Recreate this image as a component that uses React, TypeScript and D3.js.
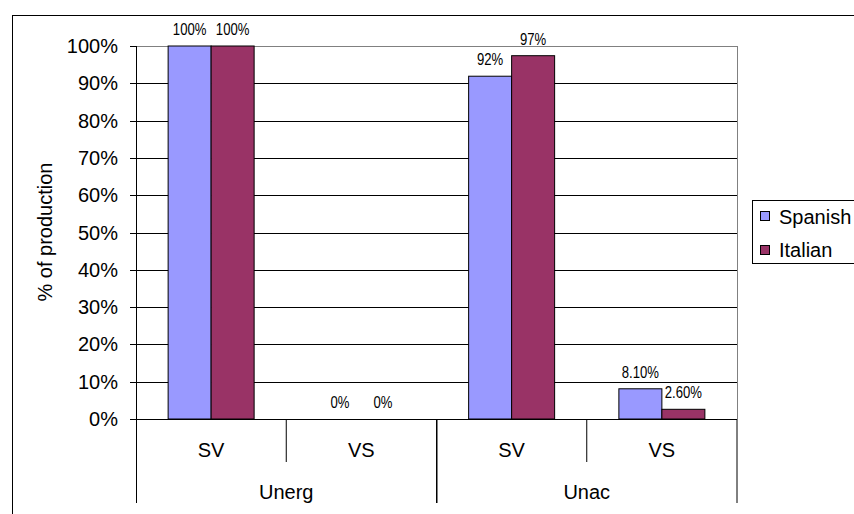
import React from "react";
import * as d3 from "d3";

const groups = ["Unerg", "Unac"];
const subcats = ["SV", "VS"];
const categories = ["Unerg|SV", "Unerg|VS", "Unac|SV", "Unac|VS"];
const seriesNames = ["Spanish", "Italian"];
const spanish = [100, 0, 91.9, 8.1];
const italian = [100, 0, 97.4, 2.6];
const spanishLabels = ["100%", "0%", "92%", "8.10%"];
const italianLabels = ["100%", "0%", "97%", "2.60%"];
const yTicks = [0, 10, 20, 30, 40, 50, 60, 70, 80, 90, 100];
const colors = ["#9999FF", "#993366"];

export default function App() {
  const W = 854, H = 514;
  const left = 136, right = 737, top = 46, bottom = 419;
  const y = d3.scaleLinear().domain([0, 100]).range([bottom, top]);
  const x = d3.scaleBand().domain(categories).range([left, right]).paddingInner(0).paddingOuter(0);
  const bw = 43;
  const font = "'Liberation Sans', Arial, sans-serif";
  const series = [spanish, italian];
  const labels = [spanishLabels, italianLabels];
  const groupX = (g: number) => [x(categories[g * 2])!, x(categories[g * 2 + 1])! + x.bandwidth()];

  return (
    <svg width={W} height={H} style={{ position: "absolute", left: 0, top: 0, background: "#fff", display: "block" }}>
      <rect x={12.5} y={15.5} width={1000} height={1000} fill="#fff" stroke="#000" strokeWidth={1} />
      {/* plot border */}
      <line x1={left} x2={right} y1={top + 0.5} y2={top + 0.5} stroke="#808080" />
      <line x1={right + 0.5} x2={right + 0.5} y1={top} y2={bottom} stroke="#808080" />
      {/* gridlines */}
      {yTicks.filter(t => t > 0 && t < 100).map(t => (
        <line key={t} x1={left} x2={right} y1={Math.round(y(t)) + 0.5} y2={Math.round(y(t)) + 0.5} stroke="#000" />
      ))}
      {/* bars */}
      {categories.map((c, i) => {
        const cx = x(c)! + x.bandwidth() / 2;
        return series.map((s, si) => {
          const bx = cx - bw + si * bw;
          const h = bottom - y(s[i]);
          return (
            <g key={c + si}>
              {s[i] > 0 && (
                <rect x={bx} y={y(s[i])} width={bw} height={h} fill={colors[si]} stroke="#000" strokeWidth={1} />
              )}
              <text transform={`translate(${bx + bw / 2},${y(s[i]) - 11}) scale(0.82,1)`} textAnchor="middle" fontFamily={font} fontSize={16} fill="#000">
                {labels[si][i]}
              </text>
            </g>
          );
        });
      })}
      {/* y axis */}
      <line x1={left + 0.5} x2={left + 0.5} y1={top} y2={503} stroke="#000" />
      {yTicks.map(t => (
        <g key={t}>
          <line x1={130} x2={left} y1={Math.round(y(t)) + 0.5} y2={Math.round(y(t)) + 0.5} stroke="#000" />
          <text x={118} y={y(t) + 7} textAnchor="end" fontFamily={font} fontSize={20} fill="#000">{t}%</text>
        </g>
      ))}
      {/* x axis */}
      <line x1={left} x2={right} y1={bottom + 0.5} y2={bottom + 0.5} stroke="#000" />
      {categories.map((c, i) => (
        <g key={c}>
          <line x1={x(c)! + x.bandwidth()} x2={x(c)! + x.bandwidth()} y1={bottom} y2={i % 2 === 0 ? 462 : 503} stroke="#000" />
          <text x={x(c)! + x.bandwidth() / 2} y={457} textAnchor="middle" fontFamily={font} fontSize={20} fill="#000">
            {subcats[i % 2]}
          </text>
        </g>
      ))}
      {groups.map((g, gi) => {
        const [a, b] = groupX(gi);
        return (
          <g key={g}>
            <line x1={a + 0.5} x2={a + 0.5} y1={bottom} y2={503} stroke="#000" />
            <text x={(a + b) / 2} y={499} textAnchor="middle" fontFamily={font} fontSize={20} fill="#000">{g}</text>
          </g>
        );
      })}
      {/* y title */}
      <text transform={`translate(52,232) rotate(-90)`} textAnchor="middle" fontFamily={font} fontSize={20} fill="#000">
        % of production
      </text>
      {/* legend */}
      <rect x={752.5} y={200.5} width={200} height={63} fill="#fff" stroke="#000" />
      {seriesNames.map((n, i) => (
        <g key={n}>
          <rect x={760.5} y={211.5 + i * 34} width={9} height={9} fill={colors[i]} stroke="#000" />
          <text x={779} y={224 + i * 33} fontFamily={font} fontSize={20} fill="#000">{n}</text>
        </g>
      ))}
    </svg>
  );
}
